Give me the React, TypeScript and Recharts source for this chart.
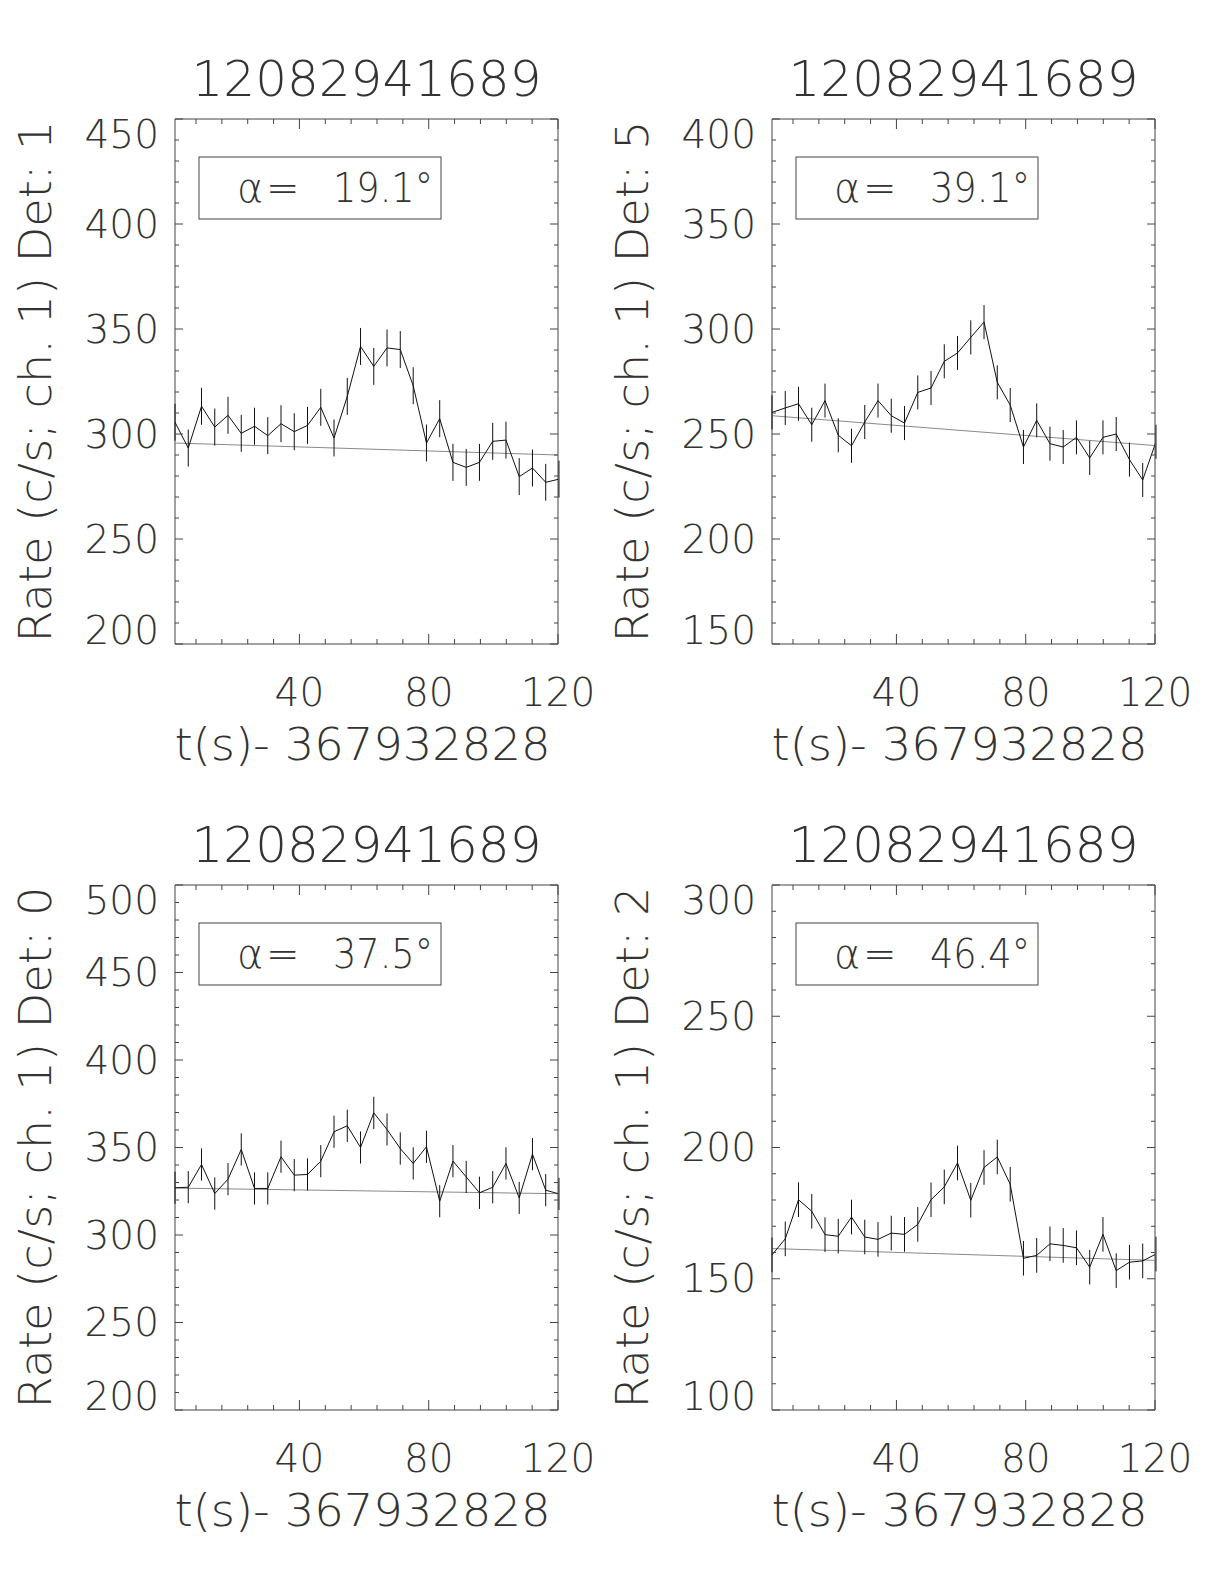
import React from "react";
import { ErrorBar, Line, LineChart, ReferenceArea, ReferenceLine, XAxis, YAxis } from "recharts";

// time bins, seconds after 367932828
const times = [
  1.5, 5.6, 9.7, 13.8, 17.9, 22.0, 26.1, 30.2, 34.3, 38.4, 42.5, 46.6, 50.7, 54.8, 58.9,
  63.0, 67.1, 71.2, 75.2, 79.3, 83.4, 87.5, 91.6, 95.7, 99.8, 103.9, 108.0, 112.1, 116.2, 120.3,
];

const det1 = [
  305.6, 293.3, 313.2, 303.3, 308.9, 300.3, 303.7, 299.2, 304.9, 301.1, 304.1, 312.7, 298.1, 317.9, 341.7,
  332.2, 341.0, 340.2, 323.0, 295.7, 307.3, 286.5, 284.1, 286.5, 296.5, 297.1, 279.7, 283.8, 277.0, 278.5,
];
const det5 = [
  260.3, 262.4, 264.4, 254.4, 265.9, 249.4, 244.4, 255.7, 265.9, 258.7, 255.2, 269.8, 271.9, 284.6, 288.6,
  296.0, 303.3, 274.6, 263.8, 243.8, 256.5, 245.4, 243.8, 248.4, 238.6, 248.4, 250.0, 237.8, 228.1, 246.3,
];
const det0 = [
  327.0, 327.3, 340.3, 323.7, 331.9, 348.9, 326.6, 326.6, 344.7, 334.2, 334.6, 342.2, 359.0, 362.4, 350.0,
  369.8, 360.3, 349.4, 340.9, 350.4, 319.3, 342.2, 333.2, 324.1, 327.3, 340.9, 321.2, 346.2, 325.6, 323.5,
];
const det2 = [
  159.1, 165.2, 180.1, 175.7, 166.8, 166.2, 173.5, 165.9, 165.0, 167.4, 166.9, 170.7, 180.1, 185.0, 194.1,
  179.9, 192.4, 196.4, 186.0, 157.8, 158.9, 163.3, 162.7, 161.8, 154.4, 166.9, 153.1, 156.3, 156.8, 159.4,
];

// background fit: value at left edge, value at right edge
const bg1 = [295.7, 290.0];
const bg5 = [258.7, 244.5];
const bg0 = [326.8, 323.6];
const bg2 = [161.5, 157.0];

const detNames = ["1", "5", "0", "2"];
const angles = ["19.1", "39.1", "37.5", "46.4"];
const errHalf = [8.8, 8.1, 9.2, 6.6];
const yRanges = [
  [200, 450],
  [150, 400],
  [200, 500],
  [100, 300],
];
const xDomain = [1.5, 120];
const xMajor = [40, 80, 120];
const xMinor = [8, 16, 24, 32, 48, 56, 64, 72, 88, 96, 104, 112];

const TITLE = "12082941689";
const X_TITLE = "t(s)- 367932828";

const FONT = '"DejaVu Sans", sans-serif';
const INK = "#333";
const AXIS = "#444";

// plot box inside each panel
const PL = 175;
const PT = 119;
const PW = 383;
const PH = 525;
const CW = 597;
const CH = 766;

const panelPos = [
  [0, 0],
  [597, 0],
  [0, 766],
  [597, 766],
];

const textStyle = { fontFamily: FONT, fontWeight: 200, fill: INK };

const XTick = (props: any) => {
  const { x, y, payload } = props;
  const major = xMajor.includes(payload.value);
  const len = major ? 10 : 5;
  return (
    <g>
      <line x1={x} y1={y} x2={x} y2={y - len} stroke={AXIS} />
      <line x1={x} y1={y - PH} x2={x} y2={y - PH + len} stroke={AXIS} />
      {major && (
        <text x={x} y={y + 48} textAnchor="middle" dominantBaseline="central" fontSize={39} style={textStyle}>
          {payload.value}
        </text>
      )}
    </g>
  );
};

const makeYTick = (min: number, max: number) => (props: any) => {
  const { x, y, payload } = props;
  const v = payload.value as number;
  const major = v % 50 === 0;
  const len = major ? 8 : 4;
  let baseline = "central";
  if (v === max) baseline = "hanging";
  if (v === min) baseline = "alphabetic";
  return (
    <g>
      <line x1={x} y1={y} x2={x + len} y2={y} stroke={AXIS} />
      <line x1={x + PW} y1={y} x2={x + PW - len} y2={y} stroke={AXIS} />
      {major && (
        <text x={x - 16} y={y} textAnchor="end" dominantBaseline={baseline} fontSize={39} style={textStyle}>
          {v}
        </text>
      )}
    </g>
  );
};

function Panel({ idx, rates, bg }: { idx: number; rates: number[]; bg: number[] }) {
  const [min, max] = yRanges[idx];
  const rows = times.map((t, i) => ({ t, rate: rates[i], err: errHalf[idx] }));
  const yTicks: number[] = [];
  for (let v = min; v <= max; v += 10) yTicks.push(v);
  const [left, top] = panelPos[idx];

  return (
    <div style={{ position: "absolute", left, top, width: CW, height: CH }}>
      <LineChart
        width={CW}
        height={CH}
        data={rows}
        margin={{ top: PT, left: PL - 1, right: CW - PL - PW, bottom: CH - PT - PH - 1 }}
      >
        <XAxis
          type="number"
          dataKey="t"
          domain={xDomain}
          allowDataOverflow
          ticks={[...xMinor, ...xMajor].sort((a, b) => a - b)}
          interval={0}
          height={1}
          tickSize={0}
          tickMargin={0}
          tickLine={false}
          axisLine={false}
          tick={(p: any) => <XTick {...p} />}
        />
        <YAxis
          type="number"
          domain={[min, max]}
          allowDataOverflow
          ticks={yTicks}
          interval={0}
          width={1}
          tickSize={0}
          tickMargin={0}
          tickLine={false}
          axisLine={false}
          tick={makeYTick(min, max)}
        />
        <ReferenceArea
          x1={xDomain[0]}
          x2={xDomain[1]}
          y1={min}
          y2={max}
          fill="none"
          fillOpacity={0}
          stroke={AXIS}
          strokeWidth={1}
        />
        <ReferenceLine
          segment={[
            { x: xDomain[0], y: bg[0] },
            { x: xDomain[1], y: bg[1] },
          ]}
          stroke="#8a8a8a"
          strokeWidth={1}
        />
        <Line
          type="linear"
          dataKey="rate"
          stroke="#111"
          strokeWidth={1}
          dot={false}
          isAnimationActive={false}
        >
          <ErrorBar dataKey="err" width={0} stroke="#111" strokeWidth={1} direction="y" isAnimationActive={false} />
        </Line>
      </LineChart>
      <svg
        width={CW}
        height={CH}
        style={{ position: "absolute", left: 0, top: 0, overflow: "visible", pointerEvents: "none" }}
      >
        <text
          x={PL + PW / 2}
          y={PT - 40}
          textAnchor="middle"
          dominantBaseline="central"
          fontSize={50}
          textLength={350}
          lengthAdjust="spacingAndGlyphs"
          style={textStyle}
        >
          {TITLE}
        </text>
        <text
          x={PL + PW / 2 - 4}
          y={PT + PH + 100}
          textAnchor="middle"
          dominantBaseline="central"
          fontSize={44}
          textLength={376}
          lengthAdjust="spacingAndGlyphs"
          style={textStyle}
        >
          {X_TITLE}
        </text>
        <text
          transform={`translate(35, ${PT + PH / 2}) rotate(-90)`}
          textAnchor="middle"
          dominantBaseline="central"
          fontSize={44}
          textLength={522}
          lengthAdjust="spacingAndGlyphs"
          style={textStyle}
        >
          {`Rate (c/s; ch. 1) Det: ${detNames[idx]}`}
        </text>
        <rect x={PL + 24} y={PT + 38} width={242} height={62} fill="none" stroke={AXIS} strokeWidth={1} />
        <text x={PL + 62} y={PT + 69} dominantBaseline="central" fontSize={40} style={textStyle}>
          α
        </text>
        <text x={PL + 91} y={PT + 69} dominantBaseline="central" fontSize={40} style={textStyle}>
          =
        </text>
        <text
          x={PL + 158}
          y={PT + 69}
          dominantBaseline="central"
          fontSize={40}
          textLength={100}
          lengthAdjust="spacingAndGlyphs"
          style={textStyle}
        >
          {`${angles[idx]}°`}
        </text>
      </svg>
    </div>
  );
}

export default function App() {
  return (
    <div style={{ position: "absolute", left: 0, top: 0, width: 1224, height: 1584, background: "#fff" }}>
      <Panel idx={0} rates={det1} bg={bg1} />
      <Panel idx={1} rates={det5} bg={bg5} />
      <Panel idx={2} rates={det0} bg={bg0} />
      <Panel idx={3} rates={det2} bg={bg2} />
    </div>
  );
}
